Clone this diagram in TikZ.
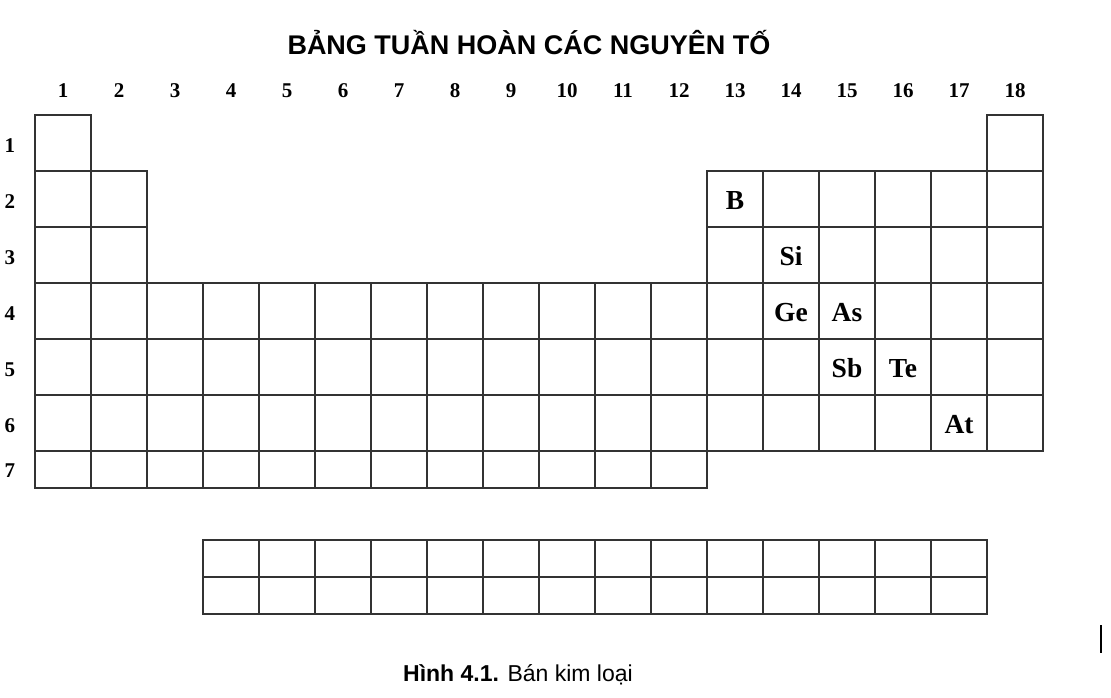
\documentclass[tikz,border=0pt]{standalone}
\usepackage{fontspec}
\setmainfont{Liberation Serif}
\newfontfamily\titlesans{Liberation Sans}
\begin{document}
\begin{tikzpicture}[x=1pt,y=-1pt,
  cell/.style={draw=black!80,line width=1.1pt,minimum width=56pt,minimum height=56pt,inner sep=0pt,outer sep=0pt},
  shortcell/.style={cell,minimum height=37pt},
  elem/.style={font=\bfseries\fontsize{27.5}{27.5}\selectfont,inner sep=0pt,text height=20pt,text depth=0pt},
  lab/.style={font=\bfseries\fontsize{21}{21}\selectfont,inner sep=0pt,text height=14pt,text depth=0pt},
  title/.style={font=\titlesans\bfseries\fontsize{27}{28}\selectfont,inner sep=0pt},
  caption/.style={font=\titlesans\fontsize{23}{23}\selectfont,inner sep=0pt}]
\useasboundingbox (0,0) rectangle (1111,697);
\node[title] (title) at (529,43) {BẢNG TUẦN HOÀN CÁC NGUYÊN TỐ};
% group labels
\foreach \g in {1,...,18}{
  \node[lab] (g\g) at ({63+56*(\g-1)},90) {\g};
}
% period labels
\foreach \p in {1,...,6}{
  \node[lab] (p\p) at (10,{145+56*(\p-1)}) {\p};
}
\node[lab] (p7) at (10,470) {7};
% row 1
\node[cell] (c-1-1) at (63,143) {};
\node[cell] (c-1-18) at (1015,143) {};
% rows 2,3
\foreach \p in {2,3}{
  \foreach \g in {1,2,13,14,15,16,17,18}{
    \node[cell] (c-\p-\g) at ({63+56*(\g-1)},{143+56*(\p-1)}) {};
  }
}
% rows 4-6
\foreach \p in {4,5,6}{
  \foreach \g in {1,...,18}{
    \node[cell] (c-\p-\g) at ({63+56*(\g-1)},{143+56*(\p-1)}) {};
  }
}
% row 7
\foreach \g in {1,...,12}{
  \node[shortcell] (c-7-\g) at ({63+56*(\g-1)},469.5) {};
}
% lanthanides / actinides
\foreach \i in {1,...,14}{
  \node[shortcell] (l-1-\i) at ({231+56*(\i-1)},558.5) {};
  \node[shortcell] (l-2-\i) at ({231+56*(\i-1)},595.5) {};
}
% metalloids
\node[elem] (eB) at (c-2-13) {B};
\node[elem] (eSi) at (c-3-14) {Si};
\node[elem] (eGe) at (c-4-14) {Ge};
\node[elem] (eAs) at (c-4-15) {As};
\node[elem] (eSb) at (c-5-15) {Sb};
\node[elem] (eTe) at (c-5-16) {Te};
\node[elem] (eAt) at (c-6-17) {At};
% caption
\node[caption] (cap) at (518,675) {\textbf{Hình 4.1.} Bán kim loại};
% stray mark
\coordinate (m1) at (1101,625);
\coordinate (m2) at (1101,653);
\draw[line width=1.5pt] (m1) -- (m2);
\end{tikzpicture}
\end{document}
